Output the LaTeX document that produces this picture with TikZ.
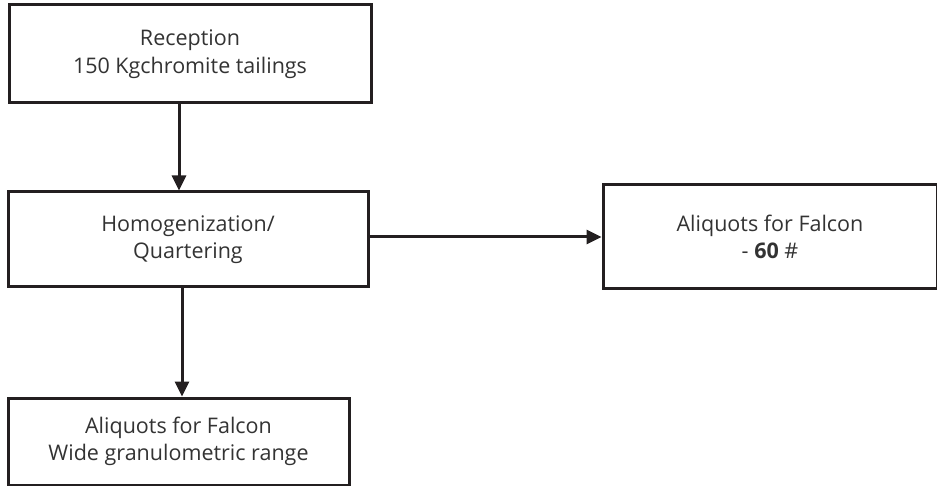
\documentclass[tikz,border=0pt]{standalone}
\usepackage{fontspec}
\setmainfont{Open Sans}
\usetikzlibrary{arrows.meta}
\definecolor{ink}{HTML}{231F20}
\definecolor{txt}{HTML}{333333}
\begin{document}
\begin{tikzpicture}[x=1pt,y=-1pt,
  box/.style={draw=ink,line width=3pt,rectangle,inner sep=0pt,align=center,text=txt,font=\fontsize{21.5}{27.5}\selectfont},
  conn/.style={draw=ink,line width=3pt,-{Triangle[length=15pt,width=14pt]}}]
\useasboundingbox (0,0) rectangle (937,486);
\node[box,minimum width=362pt,minimum height=98pt] (b1) at (190,54) {Reception\\150 Kgchromite tailings};
\node[box,minimum width=360pt,minimum height=95pt] (b2) at (188,239.5) {Homogenization/\\Quartering};
\node[box,minimum width=334pt,minimum height=104pt] (b3) at (770,237) {Aliquots for Falcon\\- \textbf{60} \#};
\node[box,minimum width=341pt,minimum height=87pt] (b4) at (178.5,441.5) {Aliquots for Falcon\\Wide granulometric range};
\draw[conn] (b1.south -| 179,0) -- (b2.north -| 179,0);
\draw[conn] (b2.east |- 0,237) -- (b3.west |- 0,237);
\draw[conn] (b2.south -| 182,0) -- (b4.north -| 182,0);
\end{tikzpicture}
\end{document}
